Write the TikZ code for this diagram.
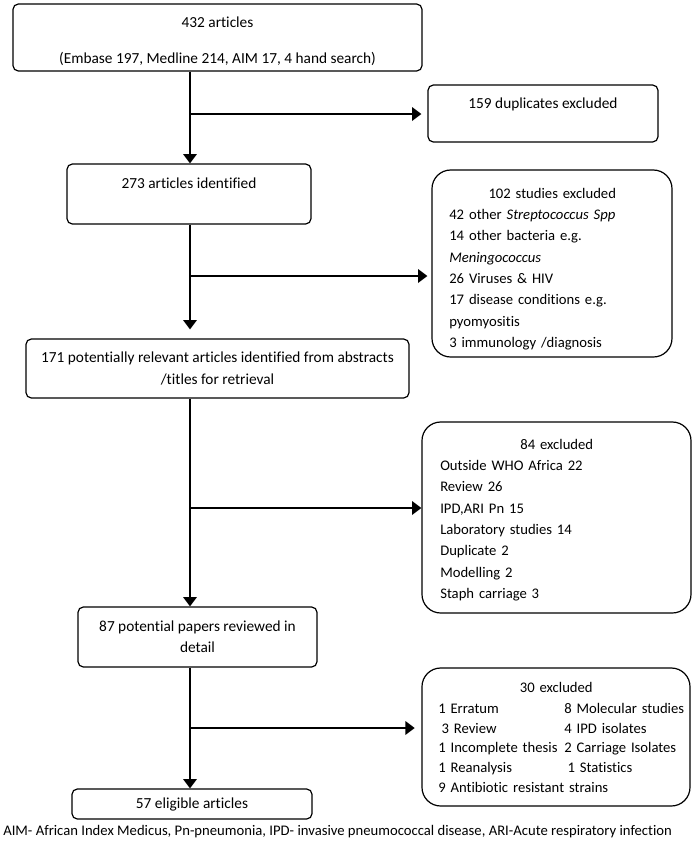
\documentclass[tikz,border=0pt]{standalone}
\usepackage{fontspec}
\setmainfont{Carlito}[Ligatures=NoCommon]
\usetikzlibrary{arrows.meta}

\begin{document}
\begin{tikzpicture}[x=0.75pt, y=-0.75pt,
  main box/.style={draw, line width=0.9pt, rounded corners=4pt, inner sep=0pt, align=center, font=\fontsize{11.5}{16}\selectfont},
  excl box/.style={draw, line width=0.9pt, rounded corners=14pt, inner sep=0pt},
  excl list/.style={anchor=base west, inner sep=0pt, align=left, font=\fontsize{11}{16}\selectfont},
  flow line/.style={line width=2.2pt, -{Triangle[length=7pt, width=10pt]}}]
\useasboundingbox (0,0) rectangle (695,844);

% main column
\node[main box, minimum width=306.75pt, minimum height=50.25pt, text height=41pt] (top) at (217.5,37.5)
  {432 articles\\[11pt](Embase 197, Medline 214, AIM 17, 4 hand search)};

\node[main box, minimum width=183pt, minimum height=45pt] (n273) at (189,194)
  {273 articles identified\\ \mbox{}};

\node[main box, minimum width=287.25pt, minimum height=44.25pt] (n171) at (217.5,368.5)
  {171 potentially relevant articles identified from abstracts\\/titles for retrieval};

\node[main box, minimum width=179.25pt, minimum height=45pt] (n87) at (197.5,637)
  {87 potential papers reviewed in\\detail};

\node[main box, minimum width=180pt, minimum height=22.5pt] (n57) at (192,804)
  {57 eligible articles};

% exclusions
\node[main box, minimum width=172.5pt, minimum height=42.75pt] (dup) at (543,113.5)
  {159 duplicates excluded\\ \mbox{}};

\node[excl box, minimum width=180pt, minimum height=140.25pt] (excl102) at (552,263.5) {};
\node[excl list, text width=154.5pt] (list102) at (449,198)
  {\makebox[\linewidth]{102 studies excluded}\\
   42 other \textit{Streptococcus Spp}\\
   14 other bacteria e.g.\\
   \textit{Meningococcus}\\
   26 Viruses \& HIV\\
   17 disease conditions e.g.\\
   pyomyositis\\
   3 immunology /diagnosis};

\node[excl box, minimum width=201.75pt, minimum height=143.25pt] (excl84) at (556.5,517.5) {};
\node[excl list, text width=174.75pt] (list84) at (440,449)
  {\makebox[\linewidth]{84 excluded}\\
   Outside WHO Africa 22\\
   Review 26\\
   IPD,ARI Pn 15\\
   Laboratory studies 14\\
   Duplicate 2\\
   Modelling 2\\
   Staph carriage 3};

\node[excl box, minimum width=201pt, minimum height=103.5pt] (excl30) at (556,737) {};
\node[excl list, text width=177pt, font=\fontsize{11}{14.7}\selectfont] (list30) at (438,692)
  {\makebox[\linewidth]{30 excluded}\\[1.5pt]
   \mbox{\makebox[94.5pt][l]{1 Erratum}8 Molecular studies}\\
   \mbox{\makebox[94.5pt][l]{\hspace*{2.5pt}3 Review}4 IPD isolates}\\
   \mbox{\makebox[94.5pt][l]{1 Incomplete thesis}2 Carriage Isolates}\\
   \mbox{\makebox[94.5pt][l]{1 Reanalysis}\hspace{2.5pt}1 Statistics}\\
   \mbox{9 Antibiotic resistant strains}};

% footnote
\node[anchor=west, inner sep=0pt, font=\fontsize{11}{13}\selectfont] (note) at (3,832)
  {AIM- African Index Medicus, Pn-pneumonia, IPD- invasive pneumococcal disease, ARI-Acute respiratory infection};

% branch points on the spine
\coordinate (b1) at (190,114);
\coordinate (b2) at (190,276);
\coordinate (b3) at (190,508);
\coordinate (b4) at (190,728);

\path
% 432 -> 273
(b1 |- top.south) edge[flow line] (b1 |- n273.north)
(b1) edge[flow line, shorten >=4.5pt] (b1 -| dup.west)

% 273 -> 171
(b2 |- n273.south) edge[flow line, shorten >=6.75pt] (b2 |- n171.north)
(b2) edge[flow line, shorten >=3pt] (b2 -| excl102.west)

% 171 -> 87
(b3 |- n171.south) edge[flow line] (b3 |- n87.north)
(b3) edge[flow line] (b3 -| excl84.west)

% 87 -> 57
(b4 |- n87.south) edge[flow line] (b4 |- n57.north)
(b4) edge[flow line, shorten >=5pt] (b4 -| excl30.west)
;

\end{tikzpicture}
\end{document}
